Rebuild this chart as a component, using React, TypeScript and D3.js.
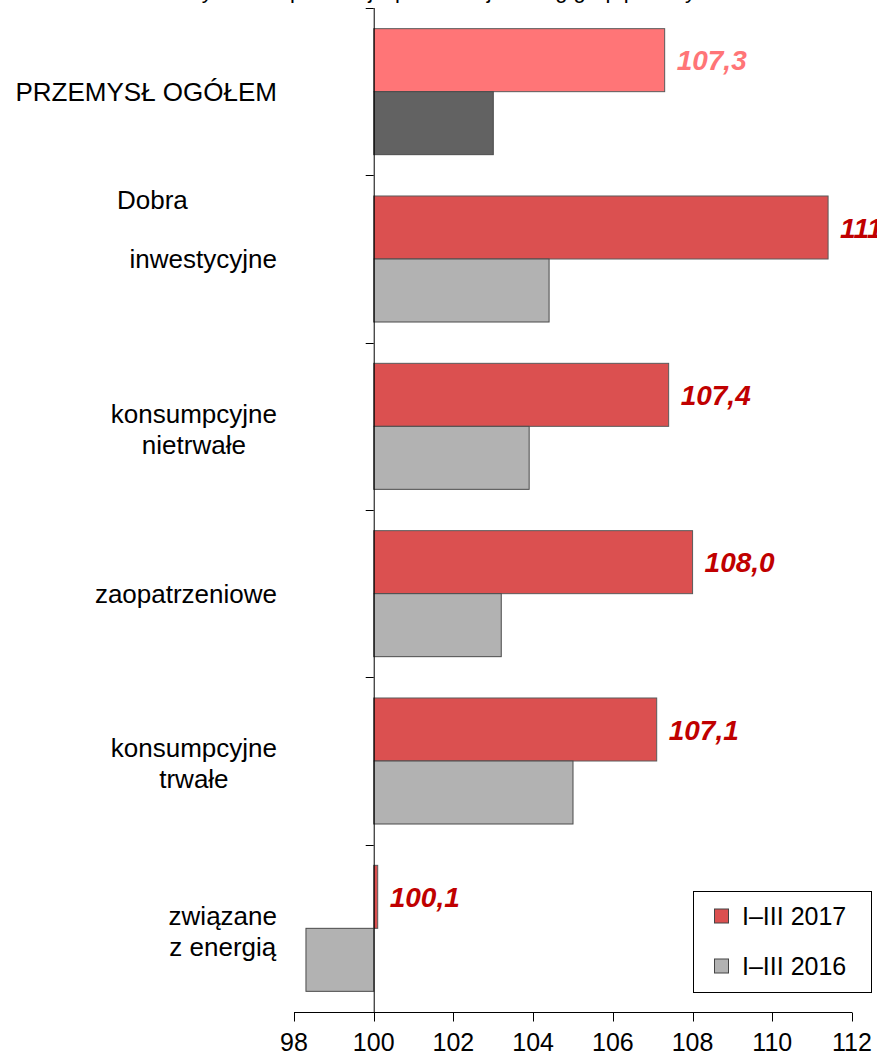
import React, { useEffect, useRef } from 'react';
import * as d3 from 'd3';

// dane
const categories = ['ogolem', 'inwestycyjne', 'nietrwale', 'zaopatrzeniowe', 'trwale', 'energia'];
const categoryLines = [
  ['PRZEMYSŁ OGÓŁEM'],
  ['inwestycyjne'],
  ['konsumpcyjne', 'nietrwałe'],
  ['zaopatrzeniowe'],
  ['konsumpcyjne', 'trwałe'],
  ['związane', 'z energią'],
];
const series = ['I–III 2017', 'I–III 2016'];
const values2017 = [107.3, 111.4, 107.4, 108.0, 107.1, 100.1];
const values2016 = [103.0, 104.4, 103.9, 103.2, 105.0, 98.3];
const xTicks = [98, 100, 102, 104, 106, 108, 110, 112];

const W = 877;
const H = 1055;

const App = () => {
  const svgRef = useRef<SVGSVGElement | null>(null);

  useEffect(() => {
    if (!svgRef.current) return;
    const svg = d3.select(svgRef.current);
    svg.selectAll('*').remove();
    const font = 'Liberation Sans, Arial, sans-serif';

    const x = d3.scaleLinear().domain([98, 112]).range([294, 852]);
    const y = d3.scaleBand<string>().domain(categories).range([8, 1012])
      .paddingInner(0.247).paddingOuter(0.1235);
    const ySub = d3.scaleBand<string>().domain(series).range([0, y.bandwidth()]);

    // tytuł (ucięty u góry)
    svg.append('text')
      .attr('x', 455).attr('y', -2)
      .attr('text-anchor', 'middle')
      .style('font-family', font).style('font-size', '22px')
      .text('Dynamika produkcji sprzedanej według grup przemysłu');

    const fill2017 = (i: number) => (i === 0 ? '#FF7577' : '#DB5050');
    const fill2016 = (i: number) => (i === 0 ? '#626262' : '#B2B2B2');

    const g = svg.append('g');
    categories.forEach((c, i) => {
      const top = y(c)!;
      const v17 = values2017[i];
      const v16 = values2016[i];
      g.append('rect')
        .attr('x', x(Math.min(100, v17)))
        .attr('y', top + ySub(series[0])!)
        .attr('width', Math.abs(x(v17) - x(100)))
        .attr('height', ySub.bandwidth())
        .style('fill', fill2017(i))
        .style('stroke', '#5a5a5a').style('stroke-width', 1);
      g.append('rect')
        .attr('x', x(Math.min(100, v16)))
        .attr('y', top + ySub(series[1])!)
        .attr('width', Math.abs(x(v16) - x(100)))
        .attr('height', ySub.bandwidth())
        .style('fill', fill2016(i))
        .style('stroke', '#4a4a4a').style('stroke-width', 1);

      g.append('text')
        .attr('x', x(Math.max(100, v17)) + 12)
        .attr('y', top + ySub(series[0])! + ySub.bandwidth() / 2)
        .attr('dy', '0.36em')
        .style('font-family', font).style('font-size', '28px')
        .style('font-weight', 'bold').style('font-style', 'italic')
        .style('fill', i === 0 ? '#FF7577' : '#C00000')
        .text(d3.format('.1f')(v17).replace('.', ','));

      // podpisy kategorii, wyrównane do prawej jako blok
      const lines = categoryLines[i];
      const cy = top + y.bandwidth() / 2 + (lines.length === 2 ? 2.5 : 0);
      const lh = 31;
      const texts = lines.map((ln, k) =>
        svg.append('text')
          .attr('y', cy + (k - (lines.length - 1) / 2) * lh)
          .attr('dy', '0.36em')
          .attr('text-anchor', 'middle')
          .style('font-family', font).style('font-size', '26px')
          .style('fill', '#000')
          .text(ln));
      const maxW = d3.max(texts, t => (t.node() as SVGTextElement).getComputedTextLength()) || 0;
      texts.forEach(t => t.attr('x', 277 - maxW / 2));
    });

    svg.append('text')
      .attr('x', 117).attr('y', 200).attr('dy', '0.36em')
      .style('font-family', font).style('font-size', '26px')
      .text('Dobra');

    // oś pionowa przy 100
    const axisG = svg.append('g').style('stroke', '#000').style('stroke-width', 1);
    axisG.append('line')
      .attr('x1', x(100) + 0.5).attr('x2', x(100) + 0.5)
      .attr('y1', 8).attr('y2', 1012);
    const bounds = categories.map(c => y(c)! - (y.step() - y.bandwidth()) / 2);
    bounds.forEach(b => {
      axisG.append('line')
        .attr('x1', x(100) - 8).attr('x2', x(100))
        .attr('y1', Math.round(b) + 0.5).attr('y2', Math.round(b) + 0.5);
    });

    // oś pozioma
    const xAxis = svg.append('g').attr('transform', 'translate(0,1012.5)');
    xAxis.append('line')
      .attr('x1', x(98)).attr('x2', x(112))
      .style('stroke', '#000');
    xTicks.forEach(t => {
      xAxis.append('line')
        .attr('x1', Math.round(x(t)) + 0.5).attr('x2', Math.round(x(t)) + 0.5)
        .attr('y1', 0).attr('y2', 9)
        .style('stroke', '#000');
      xAxis.append('text')
        .attr('x', x(t)).attr('y', 29).attr('dy', '0.36em')
        .attr('text-anchor', 'middle')
        .style('font-family', font).style('font-size', '25px')
        .text(String(t));
    });

    // legenda
    const lg = svg.append('g');
    lg.append('rect')
      .attr('x', 693.5).attr('y', 891.5).attr('width', 178).attr('height', 101)
      .style('fill', '#fff').style('stroke', '#000').style('stroke-width', 1);
    series.forEach((s, k) => {
      const cy = 916 + k * 50;
      lg.append('rect')
        .attr('x', 714.5).attr('y', cy - 7).attr('width', 14).attr('height', 14)
        .style('fill', k === 0 ? '#DB5050' : '#B2B2B2')
        .style('stroke', '#444');
      lg.append('text')
        .attr('x', 742).attr('y', cy).attr('dy', '0.36em')
        .style('font-family', font).style('font-size', '25px')
        .text(s);
    });
  }, []);

  return (
    <svg
      ref={svgRef}
      width={W}
      height={H}
      style={{ position: 'absolute', left: 0, top: 0, background: '#fff' }}
    />
  );
};

export default App;
